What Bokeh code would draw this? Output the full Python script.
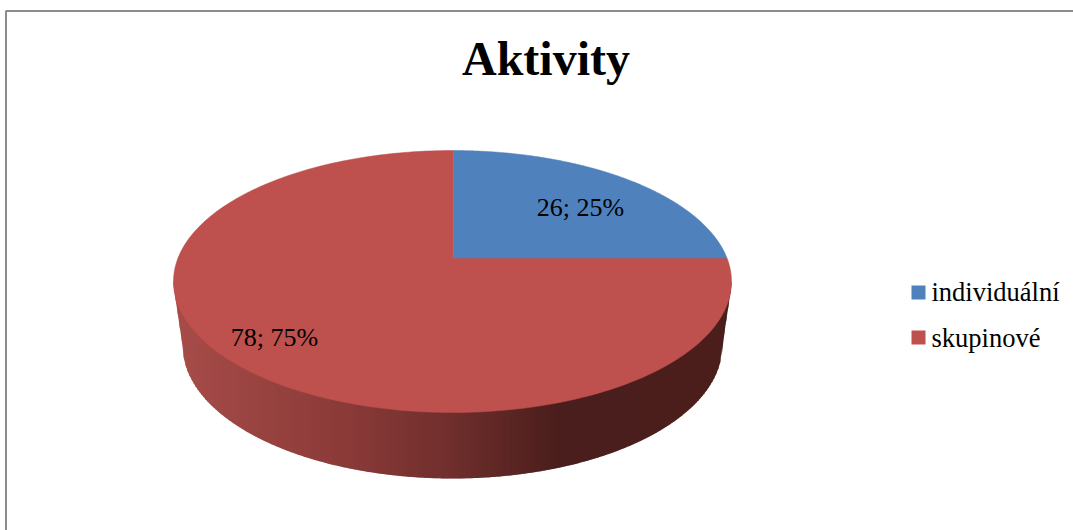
import numpy as np
from bokeh.core.properties import value
from bokeh.embed import file_html
from bokeh.models import Range1d
from bokeh.plotting import figure
from bokeh.resources import INLINE

title = "Aktivity"
categories = ["individuální", "skupinové"]
values = [26, 78]
percents = [25, 75]
slice_colors = ["#4f81bd", "#be504d"]

W, H = 1073, 530
FONT = value("Liberation Serif")
cx, cy = 452, 281          # top ellipse centre
rx, ry = 279, 131
pivot_x, pivot_y = 453, 257.5  # perspective centre of the pie
bot_cy, bot_rx, bot_ry = 345, 270, 133  # base ellipse
label_factor = [(0.644, 0.55), (0.907, 0.853)]
shade_x = [173, 350, 450, 560, 731]
shade_rgb = [(168, 77, 74), (138, 58, 56), (112, 47, 45), (74, 30, 28), (76, 30, 29)]

p = figure(width=W, height=H, x_range=Range1d(0, W), y_range=Range1d(H, 0),
           output_backend="svg", toolbar_location=None, min_border=0,
           outline_line_color=None)
p.axis.visible = False
p.grid.visible = False
p.background_fill_color = "white"
p.border_fill_color = "white"

# frame (top and left only)
p.line([5.5, 5.5, W], [H, 10.5, 10.5], line_color="#8c8c8c", line_width=2)


def base_edge(x):
    d = abs(x - cx)
    if d <= bot_rx:
        return bot_cy + bot_ry * np.sqrt(1 - (d / bot_rx) ** 2)
    return bot_cy + (cy + 4 - bot_cy) * (d - bot_rx) / (rx - bot_rx)


# extruded side, painted as gradient strips
xs, ys, cols = [], [], []
edges = np.arange(cx - rx, cx + rx, 2.0)
for x0 in edges:
    x1 = min(x0 + 3, cx + rx)
    xs.append([x0, x1, x1, x0])
    ys.append([cy, cy, base_edge(x1), base_edge(x0)])
    rgb = [int(np.interp(x0 + 1, shade_x, [c[i] for c in shade_rgb])) for i in range(3)]
    cols.append("#%02x%02x%02x" % tuple(rgb))
p.patches(xs, ys, fill_color=cols, line_color=None)


def rim_point(theta):
    """Project a pie angle onto the top ellipse, along a ray from the pivot."""
    dx, dy = np.sin(theta) * rx, -np.cos(theta) * ry
    ox, oy = pivot_x - cx, pivot_y - cy
    a = (dx / rx) ** 2 + (dy / ry) ** 2
    b = 2 * (ox * dx / rx ** 2 + oy * dy / ry ** 2)
    c = (ox / rx) ** 2 + (oy / ry) ** 2 - 1
    t = (-b + np.sqrt(b * b - 4 * a * c)) / (2 * a)
    return pivot_x + t * dx, pivot_y + t * dy


# top face, one wedge per value
total = sum(values)
fractions = np.cumsum([0] + values) / total
for i in [1, 0]:
    th = np.linspace(fractions[i], fractions[i + 1], 240) * 2 * np.pi
    pts = [rim_point(t) for t in th]
    p.patch([pivot_x] + [q[0] for q in pts], [pivot_y] + [q[1] for q in pts],
            fill_color=slice_colors[i], line_color=slice_colors[i], line_width=0.5)

# data labels
for i, (v, pc) in enumerate(zip(values, percents)):
    mid = (fractions[i] + fractions[i + 1]) * np.pi
    fx, fy = label_factor[i]
    p.text([pivot_x + rx * fx * np.sin(mid)], [pivot_y - ry * fy * np.cos(mid)],
           text=[f"{v}; {pc}%"], text_font=FONT, text_font_size="26px",
           text_align="center", text_baseline="middle", text_color="black")

# title
p.text([545.5], [58], text=[title], text_font=FONT, text_font_size="48px",
       text_font_style="bold", text_align="center", text_baseline="middle",
       text_color="black")

# legend
swatch_y = [292, 337]
legend_y = [291, 337.5]
p.rect([918, 918], swatch_y, width=14, height=14, fill_color=slice_colors, line_color=None)
p.text([931, 931], legend_y, text=categories, text_font=FONT, text_font_size="26.5px",
       text_align="left", text_baseline="middle", text_color="black")

open("out.html", "w").write(file_html(p, INLINE))
